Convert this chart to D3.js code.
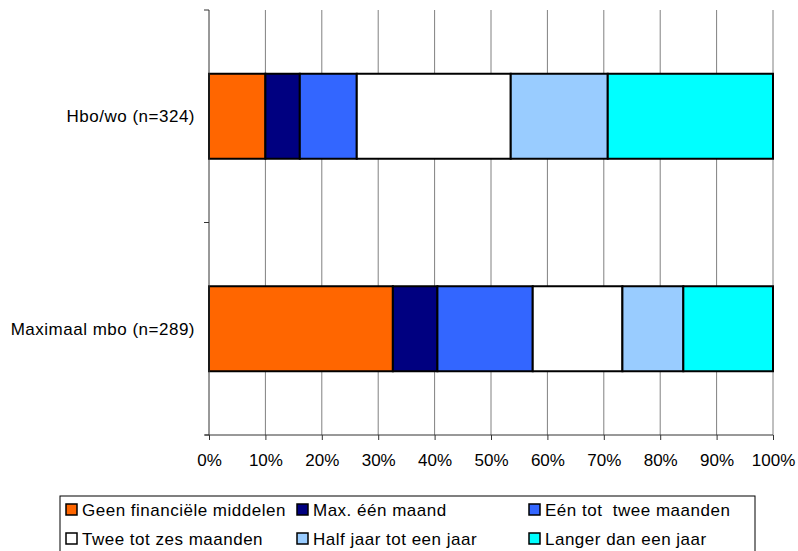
<!DOCTYPE html>
<html lang="nl">
<head>
  <meta charset="UTF-8">
  <title>Financiële middelen</title>
  <script src="https://d3js.org/d3.v7.min.js"></script>
  <style>
    body { margin: 0; background: #fff; }
    text { font-family: "Liberation Sans", Arial, sans-serif; white-space: pre; }
  </style>
</head>
<body>
<svg id="chart" width="798" height="551"></svg>
<script>
// categories (top to bottom)
const categories = ["Hbo/wo (n=324)", "Maximaal mbo (n=289)"];
const seriesNames = ["Geen financiële middelen", "Max. één maand", "Eén tot  twee maanden",
                     "Twee tot zes maanden", "Half jaar tot een jaar", "Langer dan een jaar"];
const colors = ["#FF6600", "#000080", "#3366FF", "#FFFFFF", "#99CCFF", "#00FFFF"];
// percentages per category, per series
const hboValues = [10.0, 6.1, 10.1, 27.3, 17.2, 29.3];
const mboValues = [32.6, 7.9, 16.9, 15.9, 10.8, 15.9];
const tickValues = [0, 10, 20, 30, 40, 50, 60, 70, 80, 90, 100];

const values = [hboValues, mboValues];

const svg = d3.select("#chart");
const margin = {left: 209, right: 25, top: 10, bottom: 116};
const width = 798, height = 551;

const x = d3.scaleLinear().domain([0, 100]).range([margin.left, width - margin.right]);
const y = d3.scaleBand().domain(categories).range([margin.top, height - margin.bottom]).paddingInner(0).paddingOuter(0);

// gridlines
svg.append("g")
  .selectAll("line")
  .data(tickValues.slice(1))
  .join("line")
    .attr("x1", d => x(d)).attr("x2", d => x(d))
    .attr("y1", y.range()[0]).attr("y2", y.range()[1])
    .attr("stroke", "#808080").attr("stroke-width", 1);

// stacked bars
const barH = y.bandwidth() * 0.4;
categories.forEach((cat, ci) => {
  let acc = 0;
  const segs = values[ci].map((v, i) => { const s = {x0: acc, x1: acc + v, i}; acc += v; return s; });
  svg.append("g")
    .selectAll("rect")
    .data(segs)
    .join("rect")
      .attr("x", d => x(d.x0))
      .attr("y", y(cat) + (y.bandwidth() - barH) / 2)
      .attr("width", d => x(d.x1) - x(d.x0))
      .attr("height", barH)
      .attr("fill", d => colors[d.i])
      .attr("stroke", "#000")
      .attr("stroke-width", 2);
});

// y axis
const yAxis = svg.append("g").attr("transform", `translate(${margin.left},0)`);
yAxis.append("line")
  .attr("x1", 0).attr("x2", 0)
  .attr("y1", y.range()[0]).attr("y2", y.range()[1])
  .attr("stroke", "#333").attr("stroke-width", 1);
const yTicks = [y.range()[0]].concat(categories.map(c => y(c) + y.bandwidth()));
yAxis.selectAll(".yt").data(yTicks).join("line")
  .attr("class", "yt")
  .attr("x1", -5).attr("x2", 0)
  .attr("y1", d => d).attr("y2", d => d)
  .attr("stroke", "#333");
yAxis.selectAll("text").data(categories).join("text")
  .attr("x", -14)
  .attr("y", d => y(d) + y.bandwidth() / 2)
  .attr("dy", "0.35em")
  .attr("text-anchor", "end")
  .attr("font-size", 17)
  .attr("letter-spacing", 0.5)
  .text(d => d);

// x axis
const xAxis = d3.axisBottom(x)
  .tickValues(tickValues)
  .tickFormat(d => d + "%")
  .tickSize(5)
  .tickPadding(14);
const gx = svg.append("g")
  .attr("transform", `translate(0,${y.range()[1]})`)
  .call(xAxis);
gx.select(".domain").attr("stroke", "#333").attr("d", `M${x(0) - 4},0H${x(100)}`);
gx.selectAll(".tick line").attr("stroke", "#333");
gx.selectAll(".tick text").attr("font-size", 17).attr("fill", "#000")
  .attr("font-family", "Liberation Sans, Arial, sans-serif");

// legend
const legend = svg.append("g").attr("transform", "translate(60,496)");
legend.append("rect")
  .attr("x", 0).attr("y", 0).attr("width", 695).attr("height", 70)
  .attr("fill", "none").attr("stroke", "#000").attr("stroke-width", 1);
const colX = [6, 237, 469];
const items = legend.selectAll(".item").data(seriesNames).join("g")
  .attr("class", "item")
  .attr("transform", (d, i) => `translate(${colX[i % 3]},${i < 3 ? 14 : 43})`);
items.append("rect")
  .attr("x", 0).attr("y", -6).attr("width", 11).attr("height", 11)
  .attr("fill", (d, i) => colors[i])
  .attr("stroke", "#000").attr("stroke-width", 1.5);
items.append("text")
  .attr("x", 16).attr("y", 0).attr("dy", "0.35em")
  .attr("font-size", 17)
  .attr("letter-spacing", 0.5)
  .text(d => d);
</script>
</body>
</html>
